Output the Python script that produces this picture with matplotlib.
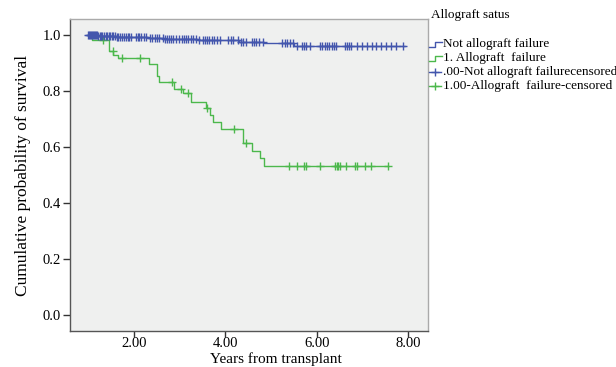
import numpy as np
import matplotlib
matplotlib.use("Agg")
import matplotlib.pyplot as plt
from matplotlib.lines import Line2D

plt.rcParams['font.family'] = ['Liberation Serif', 'DejaVu Serif']

# Kaplan-Meier step data (time in years, survival)
blue_t = [0.99, 1.20, 1.60, 2.30, 2.65, 3.40, 4.30, 4.85, 5.50, 7.92]
blue_s = [1.000, 0.997, 0.994, 0.990, 0.986, 0.982, 0.976, 0.970, 0.961, 0.961]
blue_cens = [1.00, 1.02, 1.04, 1.06, 1.08, 1.10, 1.12, 1.14, 1.16, 1.19, 1.22, 1.25,
             1.28, 1.31, 1.35, 1.38, 1.42, 1.45, 1.48, 1.52, 1.55, 1.58, 1.62, 1.66,
             1.70, 1.74, 1.78, 1.82, 1.86, 1.90, 1.94, 2.04, 2.08, 2.12, 2.16, 2.22,
             2.27, 2.36, 2.40, 2.45, 2.50, 2.55, 2.64, 2.68, 2.72, 2.76, 2.80, 2.86,
             2.92, 2.98, 3.06, 3.10, 3.14, 3.19, 3.24, 3.30, 3.36, 3.42, 3.50, 3.55,
             3.60, 3.65, 3.70, 3.76, 3.82, 3.87, 4.06, 4.12, 4.17, 4.28, 4.33, 4.39,
             4.45, 4.57, 4.62, 4.67, 4.73, 4.83, 5.24, 5.30, 5.35, 5.41, 5.48, 5.56,
             5.67, 5.72, 5.77, 5.85, 6.07, 6.12, 6.17, 6.22, 6.27, 6.32, 6.37, 6.42,
             6.61, 6.66, 6.71, 6.74, 6.87, 6.98, 7.09, 7.20, 7.30, 7.41, 7.52, 7.63,
             7.74, 7.89]

green_t = [1.00, 1.08, 1.46, 1.55, 1.64, 2.33, 2.50, 2.55, 2.87, 3.08, 3.24, 3.57,
           3.66, 3.73, 3.90, 4.39, 4.59, 4.75, 4.85, 7.56]
green_s = [1.000, 0.982, 0.943, 0.930, 0.919, 0.896, 0.855, 0.831, 0.807, 0.792,
           0.762, 0.738, 0.714, 0.690, 0.663, 0.613, 0.586, 0.560, 0.532, 0.532]
green_cens = [1.33, 1.53, 1.73, 2.13, 2.82, 3.02, 3.17, 3.60, 4.19, 4.44, 5.39, 5.56,
              5.71, 5.76, 6.07, 6.39, 6.43, 6.47, 6.50, 6.63, 6.83, 6.87, 7.05, 7.18,
              7.55]

x_ticks = [2.0, 4.0, 6.0, 8.0]
y_ticks = [0.0, 0.2, 0.4, 0.6, 0.8, 1.0]
legend_labels = ["Not allograft failure", "1. Allograft  failure",
                 ".00-Not allograft failurecensored", "1.00-Allograft  failure-censored"]

BLUE = "#4356ad"
GREEN = "#4cb84c"


def surv_at(times, surv, t):
    idx = np.searchsorted(times, t, side="right") - 1
    return np.asarray(surv)[np.clip(idx, 0, len(surv) - 1)]


fig = plt.figure(figsize=(6.16, 3.67), dpi=100)
ax = fig.add_axes([70 / 616, 36 / 367, 358 / 616, 312 / 367])
ax.set_facecolor("#eff0ef")

ax.step(blue_t, blue_s, where="post", color=BLUE, lw=1.0, zorder=3)
ax.step(green_t, green_s, where="post", color=GREEN, lw=1.0, zorder=2)
ax.plot(blue_cens, surv_at(blue_t, blue_s, blue_cens), ls="none", marker="+",
        ms=6, mew=1.0, color=BLUE, zorder=4)
ax.plot(green_cens, surv_at(green_t, green_s, green_cens), ls="none", marker="+",
        ms=6, mew=1.0, color=GREEN, zorder=3)

ax.set_xlim(0.6, 8.43)
ax.set_ylim(-0.057, 1.057)
ax.set_xticks(x_ticks)
ax.set_xticklabels([f"{v:.2f}" for v in x_ticks], fontsize=10.5)
ax.set_yticks(y_ticks)
ax.set_yticklabels([f"{v:.1f}" for v in y_ticks], fontsize=10.5)
ax.tick_params(direction="out", length=5, width=1, color="#333333", pad=1.5)
ax.tick_params(axis="x", length=4, pad=0.5)
for s in ax.spines.values():
    s.set_color("#555555")
    s.set_linewidth(1.0)
ax.spines["top"].set_color("#aaaaaa")
ax.spines["right"].set_color("#aaaaaa")

ax.set_ylabel("Cumulative probability of survival", fontsize=12.5, labelpad=8)

W, H = 616, 367
fig.text(276 / W, 0.5 / H, "Years from transplant", fontsize=11,
         ha="center", va="bottom")

# legend drawn in figure pixels
fig.text(470 / W, 1 - 15 / H, "Allograft satus", fontsize=9.5, ha="center", va="center")
rows = [44, 58, 72, 86]
for y, lab in zip(rows, legend_labels):
    fig.text(443 / W, 1 - y / H, lab, fontsize=9.5, ha="left", va="center")
for y, col in zip(rows[:2], [BLUE, GREEN]):
    xs = np.array([429, 435, 435, 442]) / W
    ys = 1 - np.array([y + 3, y + 3, y - 2, y - 2]) / H
    fig.add_artist(Line2D(xs, ys, color=col, lw=1.0))
for y, col in zip(rows[2:], [BLUE, GREEN]):
    fig.add_artist(Line2D([429 / W, 441 / W], [1 - y / H, 1 - y / H], color=col, lw=1.0))
    fig.add_artist(Line2D([434.5 / W], [1 - y / H], color=col, marker="+", ms=6, mew=1.0))

fig.savefig("out.png", dpi=100)
